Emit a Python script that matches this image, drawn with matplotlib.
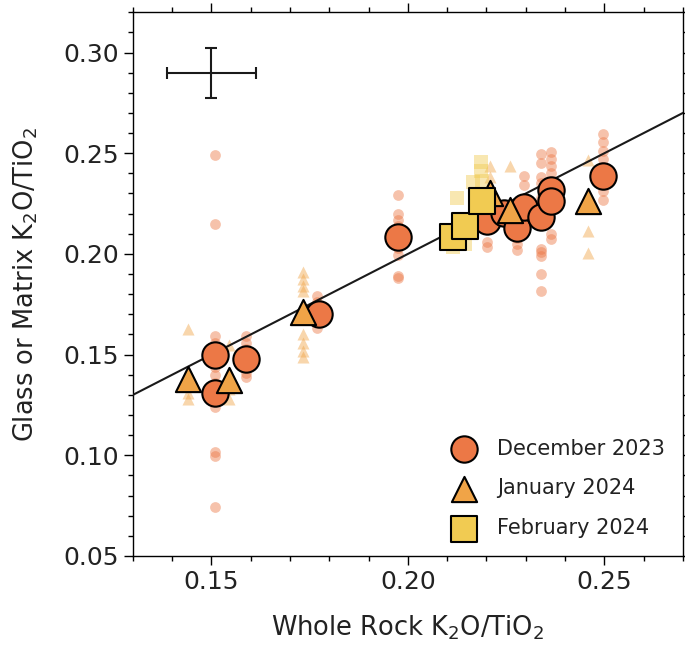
import matplotlib
matplotlib.use("Agg")
import matplotlib.pyplot as plt
from matplotlib.ticker import MultipleLocator

# averaged values per month (big markers)
dec_x = [0.1508, 0.1508, 0.1588, 0.1774, 0.1975, 0.2202, 0.2245, 0.2277, 0.2296, 0.2338, 0.2364, 0.2364, 0.2497]
dec_y = [0.1496, 0.1307, 0.1476, 0.1700, 0.2085, 0.2165, 0.2205, 0.2130, 0.2232, 0.2185, 0.2318, 0.2262, 0.2389]
jan_x = [0.1441, 0.1544, 0.1732, 0.2210, 0.2259, 0.2458]
jan_y = [0.1381, 0.1376, 0.1712, 0.2300, 0.2218, 0.2264]
feb_x = [0.2116, 0.2146, 0.2189]
feb_y = [0.2082, 0.2137, 0.2264]

# individual analyses (faint markers)
dec_pts_x = ([0.1508] * 13 + [0.1588] * 7 + [0.1768] * 4 + [0.1975] * 8
             + [0.2202] * 3 + [0.2277] * 3 + [0.2296] * 2 + [0.2338] * 10
             + [0.2364] * 6 + [0.2497] * 8)
dec_pts_y = ([0.249, 0.2148, 0.159, 0.156, 0.153, 0.144, 0.140, 0.136, 0.127, 0.124, 0.1015, 0.0995, 0.0744]
             + [0.159, 0.156, 0.153, 0.150, 0.144, 0.141, 0.139]
             + [0.179, 0.176, 0.1665, 0.163]
             + [0.2295, 0.220, 0.217, 0.214, 0.203, 0.1995, 0.189, 0.1878]
             + [0.225, 0.206, 0.2032]
             + [0.208, 0.205, 0.202]
             + [0.2389, 0.234]
             + [0.2497, 0.245, 0.238, 0.235, 0.228, 0.2024, 0.2008, 0.199, 0.190, 0.1816]
             + [0.2507, 0.247, 0.2437, 0.240, 0.2100, 0.2074]
             + [0.2597, 0.2557, 0.251, 0.247, 0.243, 0.235, 0.231, 0.227])
jan_pts_x = ([0.1441] * 4 + [0.1544] * 3 + [0.1733] * 8 + [0.2208] * 2
             + [0.2259] * 1 + [0.2458] * 3)
jan_pts_y = ([0.1625, 0.1345, 0.131, 0.128]
             + [0.155, 0.133, 0.128]
             + [0.191, 0.1875, 0.184, 0.1815, 0.160, 0.156, 0.1516, 0.1486]
             + [0.2439, 0.2380]
             + [0.2435]
             + [0.2464, 0.2115, 0.2007])
feb_pts_x = [0.2185, 0.2185, 0.2165, 0.2125, 0.2116, 0.2146, 0.2189]
feb_pts_y = [0.2456, 0.2410, 0.2355, 0.2280, 0.2035, 0.2050, 0.2360]

# typical analytical uncertainty
err_x, err_y = 0.150, 0.290
err_dx, err_dy = 0.0113, 0.0124

dec_color = "#ec7846"
jan_color = "#f0a447"
feb_color = "#f1cb52"
text_color = "#222222"

plt.rcParams["text.color"] = text_color
plt.rcParams["axes.labelcolor"] = text_color
plt.rcParams["xtick.labelcolor"] = text_color
plt.rcParams["ytick.labelcolor"] = text_color

fig = plt.figure(figsize=(6.85, 6.45), dpi=100)
ax = fig.add_axes([0.194, 0.138, 0.803, 0.843])

ax.scatter(dec_pts_x, dec_pts_y, s=60, marker="o", color=dec_color, alpha=0.45, linewidths=0, zorder=2)
ax.scatter(jan_pts_x, jan_pts_y, s=75, marker="^", color=jan_color, alpha=0.45, linewidths=0, zorder=2)
ax.scatter(feb_pts_x, feb_pts_y, s=110, marker="s", color=feb_color, alpha=0.45, linewidths=0, zorder=2)

# 1:1 line
ax.plot([0.13, 0.27], [0.13, 0.27], color="#1a1a1a", lw=1.5, zorder=3)

ax.scatter(dec_x, dec_y, s=360, marker="o", color=dec_color, edgecolors="black", linewidths=1.5,
           zorder=4, label="December 2023")
ax.scatter(jan_x, jan_y, s=330, marker="^", color=jan_color, edgecolors="black", linewidths=1.5,
           zorder=5, label="January 2024")
ax.scatter(feb_x, feb_y, s=340, marker="s", color=feb_color, edgecolors="black", linewidths=1.5,
           zorder=6, label="February 2024")

ax.errorbar([err_x], [err_y], xerr=[err_dx], yerr=[err_dy], fmt="none", ecolor="#1a1a1a",
            elinewidth=1.5, capsize=4, capthick=1.5)

ax.set_xlim(0.13, 0.27)
ax.set_ylim(0.05, 0.32)
ax.xaxis.set_major_locator(MultipleLocator(0.05))
ax.xaxis.set_minor_locator(MultipleLocator(0.01))
ax.yaxis.set_major_locator(MultipleLocator(0.05))
ax.yaxis.set_minor_locator(MultipleLocator(0.01))
ax.tick_params(which="both", direction="out", top=True, right=True, width=1)
ax.tick_params(which="major", length=6.5, labelsize=18)
ax.tick_params(which="minor", length=3.8)
for side in ax.spines.values():
    side.set_linewidth(1)

ax.set_xlabel("Whole Rock K$_2$O/TiO$_2$", fontsize=18.5, labelpad=14)
ax.set_ylabel("Glass or Matrix K$_2$O/TiO$_2$", fontsize=18.5, labelpad=17)

ax.legend(loc="lower right", frameon=False, fontsize=15, labelspacing=0.95,
          handletextpad=0.6, borderaxespad=0.45)

fig.savefig("out.png", dpi=100)
